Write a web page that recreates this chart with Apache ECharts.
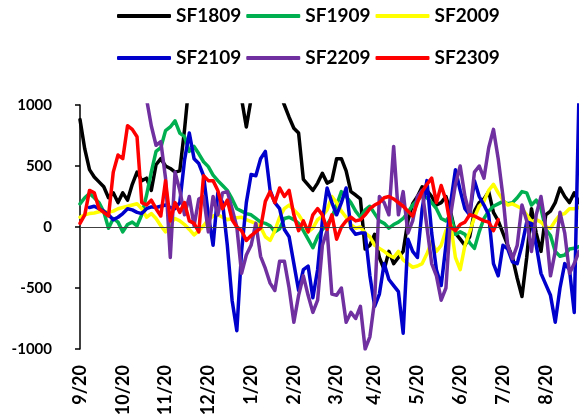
<!DOCTYPE html>
<html><head><meta charset="utf-8">
<script src="https://cdn.jsdelivr.net/npm/echarts@6/dist/echarts.min.js"></script>
<style>html,body{margin:0;padding:0;background:#fff}#c{width:579px;height:417px}</style>
</head><body><div id="c"></div>
<script>
const monthLabels = ['9/20','10/20','11/20','12/20','1/20','2/20','3/20','4/20','5/20','6/20','7/20','8/20'];
const monthLabelIndex = [0,9,18,27,36,45,54,62,71,80,89,98];
const pointCount = 106;
const yTicks = [-1000, -500, 0, 500, 1000];

const seriesNames = ['SF1809','SF1909','SF2009','SF2109','SF2209','SF2309'];

const sf1809 = [880, 640, 470, 410, 370, 330, 240, 280, 200, 280,
 220, 350, 450, 380, 400, 300, 510, 560, 500, 480,
 450, 460, 800, 1200, 1200, 1200, 1200, 1200, 1200, 1200,
 1200, 1200, 1200, 1200, 1050, 820, 1050, 1200, 1200, 1200,
 1200, 1200, 1100, 1000, 900, 810, 770, 390, 345, 300,
 360, 440, 360, 380, 560, 560, 460, 290, 262, 230,
 -180, -150, -60, -250, -350, -200, -300, -250, -200, 50,
 190, 250, 330, 300, 250, 180, 200, 250, 120, -50,
 -100, -150, -80, 130, 200, 230, 290, 120, 50, -50,
 -150, -250, -420, -570, -250, 150, -50, -200, 100, 130,
 200, 320, 250, 200, 280, 200];

const sf1909 = [190, 240, 275, 240, 200, 125, -10, 70, 40, -40,
 20, 40, 10, 100, 260, 450, 620, 650, 790, 820,
 870, 770, 740, 620, 660, 600, 535, 495, 425, 380,
 340, 300, 230, 150, 130, 110, 100, 70, 40, 30,
 10, -40, -15, 70, 80, 60, 30, -30, -100, -170,
 -80, -20, 20, 80, 180, 290, 250, 200, 130, 80,
 140, 170, 110, 50, 30, -10, 20, 40, 70, 120,
 180, 220, 260, 240, 200, 150, 70, 50, 100, -60,
 -40, -60, -130, -175, -40, 70, 130, 170, 190, 210,
 190, 200, 240, 290, 280, 180, 220, 150, -20, -70,
 -200, -240, -230, -180, -175, -160];

const sf2009 = [80, 100, 110, 115, 125, 130, 120, 130, 150, 160,
 170, 180, 190, 150, 80, 110, 70, 10, -40, 30,
 70, 50, 20, -20, -65, -30, 10, 60, 90, 100,
 80, 60, 70, 75, 80, 60, 45, 30, 0, -80,
 -110, -30, 80, 150, 180, 140, 100, 40, -40, -10,
 60, 90, 140, 250, 200, 130, 80, 20, -10, 0,
 -50, -80, -150, -175, -200, -230, -250, -200, -270, -300,
 -330, -320, -300, -220, -120, -200, -150, -30, 20, -250,
 -350, -150, -40, 80, 170, 210, 300, 350, 280, 220,
 180, 190, 170, 150, 100, 45, 60, 40, 0, -10,
 50, 100, 110, 150, 150, 160];

const sf2109 = [null, null, 160, 170, 150, 130, 100, 60, 80, 110,
 150, 140, 120, 110, 150, 165, 160, 170, 180, 160,
 150, 200, 550, 770, 560, 520, 420, 100, -150, 280,
 200, -150, -600, -850, -200, 200, 430, 420, 560, 620,
 300, 200, 150, -20, -80, -300, -520, -350, -320, -580,
 -350, 50, 320, 200, 100, 200, 320, -10, -60, -50,
 -50, -400, -650, -550, -300, -430, -480, -530, -870, -100,
 -200, -250, 150, 380, -50, -350, -480, -150, 200, 470,
 300, 150, 100, 380, 250, 180, 100, -300, -400, -150,
 -180, -285, -300, -150, 40, 30, -150, -380, -470, -560,
 -780, -500, -300, -350, -700, 1100];

const sf2209 = [null, null, null, null, null, null, null, null, null, null,
 null, null, null, null, 1050, 830, 670, 700, 400, -250,
 450, 300, 100, 250, 10, 230, 250, -40, 250, 100,
 280, 290, 150, 0, -380, -230, -150, 30, -240, -340,
 -460, -520, -280, -280, -500, -780, -560, -400, -560, -700,
 -600, -150, -30, -550, -560, -500, -780, -700, -750, -650,
 -1000, -900, -600, 250, 200, 100, 660, 100, 290, -50,
 50, 250, 300, 0, -300, -400, -600, -500, 100, 350,
 500, 250, 100, 450, 500, 400, 650, 800, 560, 250,
 -150, -260, -150, 180, 50, -200, 100, 250, 0, -400,
 -200, 120, -50, -380, -300, -200];

const sf2309 = [30, 100, 300, 280, 150, 120, 90, 450, 590, 560,
 830, 800, 740, 200, 180, 220, 150, 90, 380, 50,
 200, 120, 200, 50, 30, -40, 420, 380, 380, 300,
 150, 220, 60, 0, -30, -110, -70, -40, -10, 210,
 290, 200, 320, 250, 300, 100, -30, 50, -40, 100,
 150, 100, -20, 100, -100, 0, 50, 80, 50, 60,
 100, 150, 180, 200, 240, 250, 230, 200, 170, 130,
 90, 200, 290, 350, 400, 200, 340, 220, 0, -30,
 20, 40, 100, 90, 70, 50, 40, -30, 60, null,
 null, null, null, null, null, null, null, null, null, null,
 null, null, null, null, null, null];

const seriesData = [sf1809, sf1909, sf2009, sf2109, sf2209, sf2309];
const seriesColors = ['#000000', '#00B050', '#FFFF00', '#0000CC', '#7030A0', '#FF0000'];

const categories = Array.from({length: pointCount}, (_, i) => 'p' + i);
const labelAt = {};
monthLabelIndex.forEach((idx, k) => { labelAt[idx] = monthLabels[k]; });

const FONT = 'Lato';
const chart = echarts.init(document.getElementById('c'), null, {renderer: 'canvas'});

const series = seriesNames.map((name, k) => {
  const s = {
    name: name,
    type: 'line',
    data: seriesData[k],
    symbol: 'none',
    showSymbol: false,
    clip: true,
    connectNulls: false,
    lineStyle: {color: seriesColors[k], width: 3.5, join: 'round', cap: 'round'},
    itemStyle: {color: seriesColors[k]},
    emphasis: {disabled: true},
    animation: false
  };
  if (k === 0) {
    s.markLine = {
      silent: true,
      symbol: ['none', 'none'],
      label: {show: false},
      lineStyle: {color: '#404040', width: 1, type: 'solid'},
      emphasis: {disabled: true},
      data: [{yAxis: 0}],
      animation: false
    };
  }
  return s;
});

const legendCommon = {
  left: 117,
  itemWidth: 54,
  itemHeight: 4,
  itemGap: 5,
  padding: 0,
  icon: 'roundRect',
  selectedMode: false,
  textStyle: {fontFamily: FONT, fontWeight: 'bold', fontSize: 19, color: '#000', lineHeight: 20}
};

chart.setOption({
  animation: false,
  backgroundColor: '#ffffff',
  legend: [
    Object.assign({}, legendCommon, {top: 6, data: seriesNames.slice(0, 3)}),
    Object.assign({}, legendCommon, {top: 48, data: seriesNames.slice(3)})
  ],
  grid: {left: 80, right: 0, top: 105, bottom: 68, containLabel: false, outerBoundsMode: 'none'},
  xAxis: {
    type: 'category',
    data: categories,
    boundaryGap: false,
    axisLine: {show: false},
    axisTick: {show: false},
    splitLine: {show: false},
    axisLabel: {
      interval: 0,
      rotate: 90,
      margin: 16,
      hideOverlap: false,
      fontFamily: FONT, fontWeight: 'bold', fontSize: 18, color: '#000',
      formatter: (v, idx) => labelAt[idx] || ''
    }
  },
  yAxis: {
    type: 'value',
    min: yTicks[0],
    max: yTicks[yTicks.length - 1],
    interval: 500,
    axisLine: {show: true, lineStyle: {color: '#000', width: 1.5}},
    axisTick: {show: true, inside: false, length: 5, lineStyle: {color: '#000', width: 1.5}},
    splitLine: {show: false},
    axisLabel: {margin: 28, fontFamily: FONT, fontWeight: 'bold', fontSize: 15, color: '#000',
      formatter: v => String(v)}
  },
  series: series
});
</script>
</body></html>
